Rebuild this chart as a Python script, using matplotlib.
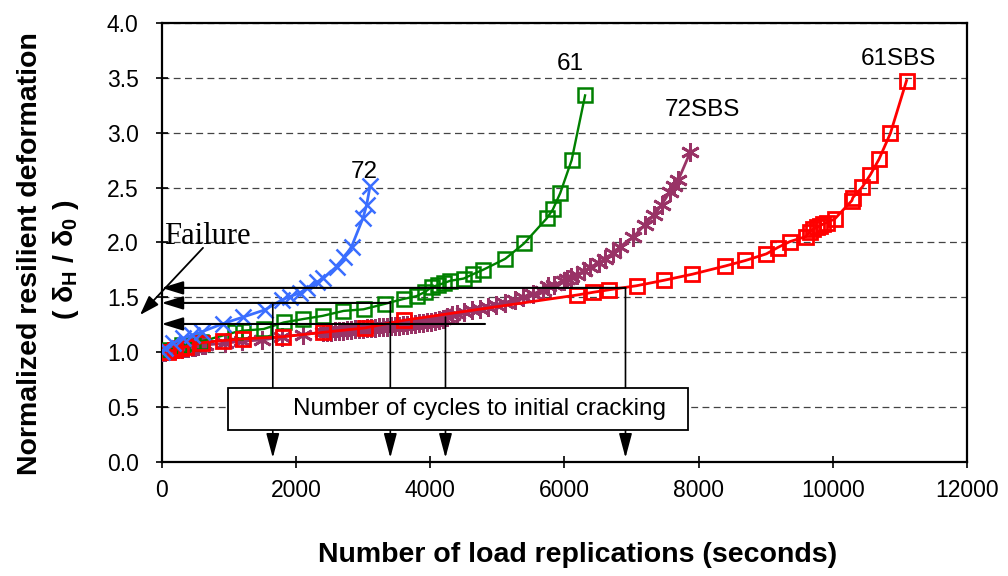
import matplotlib
matplotlib.use("Agg")
import matplotlib.pyplot as plt
from matplotlib.patches import Rectangle

plt.rcParams['font.family'] = ['Liberation Sans', 'DejaVu Sans']
plt.rcParams['mathtext.fontset'] = 'custom'
plt.rcParams['mathtext.rm'] = 'Liberation Sans:bold'
plt.rcParams['mathtext.it'] = 'Liberation Sans:bold'
plt.rcParams['mathtext.bf'] = 'Liberation Sans:bold'

# mix 72 (blue crosses)
x_72 = [0, 50, 170, 320, 450, 600, 920, 1220, 1540, 1790, 1910, 2060, 2160,
        2310, 2410, 2610, 2720, 2830, 3000, 3055, 3105]
y_72 = [1.0, 1.035, 1.08, 1.125, 1.155, 1.185, 1.26, 1.32, 1.385, 1.475, 1.505,
        1.54, 1.58, 1.635, 1.675, 1.78, 1.865, 1.96, 2.22, 2.34, 2.51]

# mix 61 (green squares)
x_61 = [0, 130, 300, 470, 580, 1090, 1220, 1520, 1820, 2100, 2400, 2710, 3010,
        3330, 3610, 3800, 3930, 4030, 4120, 4210, 4300, 4500, 4640, 4790, 5120,
        5400, 5740, 5830, 5940, 6110, 6310]
y_61 = [1.0, 1.02, 1.065, 1.085, 1.095, 1.18, 1.195, 1.21, 1.27, 1.30, 1.33,
        1.375, 1.39, 1.44, 1.485, 1.51, 1.55, 1.595, 1.61, 1.63, 1.65, 1.67,
        1.71, 1.75, 1.85, 1.99, 2.22, 2.30, 2.45, 2.75, 3.34]

# mix 72SBS (purple asterisks)
x_72sbs = [0, 50, 100, 150, 200, 250, 300, 350, 400, 450, 500, 550, 600, 650,
           950, 1200, 1500, 1800, 2110,
           2400, 2460, 2520, 2580, 2640, 2700, 2760, 2820, 2880, 2940, 3000,
           3060, 3120, 3180, 3240, 3300, 3360, 3420, 3480, 3540, 3600, 3660,
           3720, 3780, 3840, 3900, 3960, 4020, 4080, 4140, 4200, 4250, 4330,
           4400, 4510, 4620, 4740, 4870, 4990, 5120, 5260, 5390, 5540, 5690,
           5760, 5850, 5990, 6040, 6100, 6190, 6290, 6390, 6510, 6600, 6720,
           6830, 7030, 7200, 7340, 7450, 7570, 7630, 7700, 7875]
y_72sbs = [1.0, 1.005, 1.01, 1.015, 1.02, 1.025, 1.03, 1.035, 1.04, 1.045, 1.05,
           1.055, 1.06, 1.065, 1.08, 1.10, 1.11, 1.14, 1.16,
           1.18, 1.183, 1.186, 1.19, 1.193, 1.196, 1.2, 1.203, 1.206, 1.21,
           1.213, 1.216, 1.219, 1.222, 1.225, 1.228, 1.231, 1.234, 1.238, 1.242,
           1.246, 1.25, 1.254, 1.258, 1.262, 1.267, 1.272, 1.277, 1.282, 1.29,
           1.305, 1.32, 1.335, 1.35, 1.365, 1.38, 1.395, 1.41, 1.43, 1.45,
           1.475, 1.50, 1.53, 1.555, 1.60, 1.615, 1.645, 1.67, 1.685, 1.705,
           1.74, 1.775, 1.81, 1.85, 1.90, 1.96, 2.05, 2.16, 2.25, 2.34, 2.46,
           2.51, 2.57, 2.82]

# mix 61SBS (red squares)
x_61sbs = [0, 100, 200, 290, 370, 600, 910, 1210, 1810, 2410, 3030, 3610, 6190,
           6430, 6660, 7080, 7490, 7910, 8400, 8700, 9010, 9180, 9360, 9600,
           9660, 9710, 9760, 9810, 9860, 9910, 10030, 10285, 10300, 10440,
           10560, 10690, 10860, 11100]
y_61sbs = [1.0, 1.005, 1.02, 1.035, 1.05, 1.085, 1.105, 1.12, 1.14, 1.18, 1.22,
           1.29, 1.52, 1.545, 1.567, 1.605, 1.655, 1.71, 1.785, 1.835, 1.895,
           1.953, 2.007, 2.053, 2.099, 2.12, 2.139, 2.15, 2.169, 2.181, 2.214,
           2.381, 2.409, 2.504, 2.616, 2.759, 2.996, 3.476]

# cycles to initial cracking: x of crack and top of its drop line
crack_x = [1657, 3408, 4230, 6912]
crack_top = [1.448, 1.46, 1.318, 1.585]
# horizontal arrows back to the y axis
level_y = [1.585, 1.448, 1.256]
level_x = [6912, 3408, 4819]

fig = plt.figure(figsize=(10.08, 5.76), dpi=100)
ax = fig.add_axes([0.1603, 0.1984, 0.7990, 0.7616])

ax.plot(x_72sbs, y_72sbs, color='#993366', lw=2.0, marker=(6, 2, 0), ms=13.5,
        mew=2.0, zorder=3)
ax.plot(x_61, y_61, color='#008000', lw=1.7, marker='s', ms=9.6, mfc='none',
        mew=1.8, zorder=4)
ax.plot(x_61sbs, y_61sbs, color='#FF0000', lw=2.0, marker='s', ms=10,
        mfc='none', mew=2.0, zorder=5)
ax.plot(x_72, y_72, color='#3A6EFF', lw=2.0, marker='x', ms=11.5, mew=1.8,
        zorder=6)

ax.text(3016, 2.64, '72', fontsize=17.5, ha='center', va='center')
ax.text(6086, 3.63, '61', fontsize=17.5, ha='center', va='center')
ax.text(8053, 3.21, '72SBS', fontsize=17.5, ha='center', va='center')
ax.text(10974, 3.67, '61SBS', fontsize=17.5, ha='center', va='center')

for lx, ly in zip(level_x, level_y):
    ax.annotate('', xy=(0, ly), xytext=(lx, ly),
                arrowprops=dict(arrowstyle='-|>,head_length=1.3,head_width=0.4',
                                color='black', lw=1.5, shrinkA=0, shrinkB=0,
                                mutation_scale=10), zorder=8)

for cx, ct in zip(crack_x, crack_top):
    ax.annotate('', xy=(cx, 0.035), xytext=(cx, ct),
                arrowprops=dict(arrowstyle='-|>,head_length=1.5,head_width=0.4',
                                color='black', lw=1.2, shrinkA=0, shrinkB=0,
                                mutation_scale=10), zorder=8)

ax.add_patch(Rectangle((990, 0.289), 6855, 0.383, facecolor='white',
                       edgecolor='black', lw=1.3, zorder=9))
ax.text(4737, 0.48, 'Number of cycles to initial cracking', fontsize=17.5,
        ha='center', va='center', zorder=10)

ax.text(30, 2.05, 'Failure', fontsize=22, family='Liberation Serif',
        ha='left', va='center')
ax.annotate('', xy=(-322, 1.338), xytext=(617, 1.95), annotation_clip=False,
            arrowprops=dict(arrowstyle='-|>,head_length=1.2,head_width=0.4',
                            color='black', lw=1.3, shrinkA=0, shrinkB=0,
                            mutation_scale=10, clip_on=False), zorder=8)

ax.set_xlim(0, 12000)
ax.set_ylim(0, 4.0)
ax.set_xticks(range(0, 12001, 2000))
ax.set_yticks([i * 0.5 for i in range(9)])
ax.set_yticklabels([f'{i * 0.5:.1f}' for i in range(9)])
ax.yaxis.grid(True, linestyle=(0, (5.5, 3.5)), color='#444444', lw=0.9)
ax.set_axisbelow(True)
ax.tick_params(axis='both', direction='inout', length=9, width=1.2,
               labelsize=16.5)
ax.tick_params(axis='x', pad=8)
ax.tick_params(axis='y', pad=12)
for s in ax.spines.values():
    s.set_linewidth(1.6)

fig.text(0.5729, 0.036, 'Number of load replications (seconds)',
         fontsize=20.5, fontweight='bold', ha='center', va='center')
fig.text(0.030, 0.56, 'Normalized resilient deformation', fontsize=20.5,
         fontweight='bold', rotation=90, ha='center', va='center')
fig.text(0.065, 0.55, r'( $\delta_{\rm H}$ / $\delta_0$ )', fontsize=20.5,
         fontweight='bold', rotation=90, ha='center', va='center')

fig.savefig('out.png', dpi=100)
